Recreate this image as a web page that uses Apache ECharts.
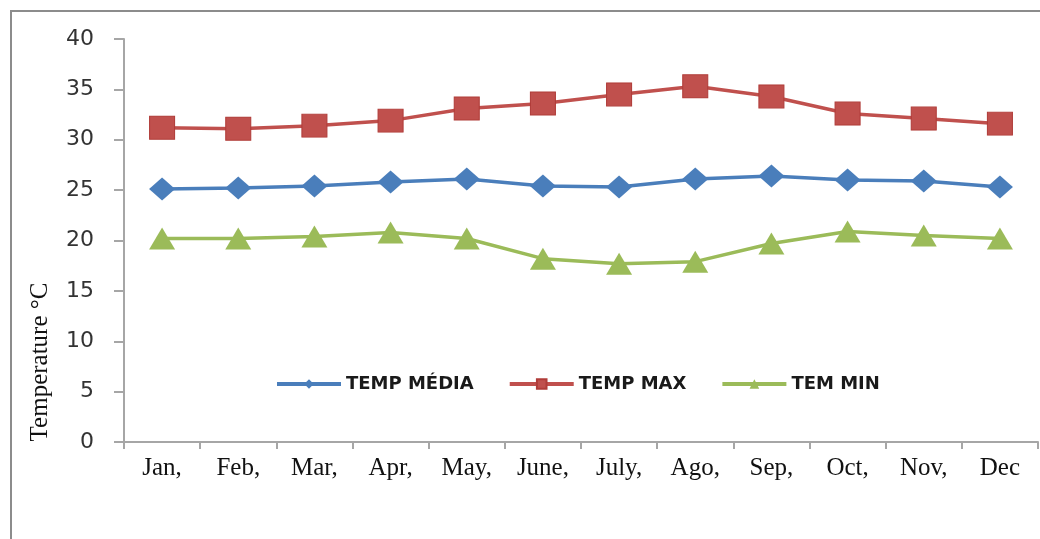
<!DOCTYPE html>
<html>
<head>
<meta charset="utf-8">
<script src="https://cdn.jsdelivr.net/npm/echarts@6/dist/echarts.min.js"></script>
<style>
html,body{margin:0;padding:0;background:#fff;}
#chart{width:1040px;height:539px;}
</style>
</head>
<body>
<div id="chart"></div>
<script>
var months = ['Jan,', 'Feb,', 'Mar,', 'Apr,', 'May,', 'June,', 'July,', 'Ago,', 'Sep,', 'Oct,', 'Nov,', 'Dec'];
var tempMedia = [25.1, 25.2, 25.4, 25.8, 26.1, 25.4, 25.3, 26.1, 26.4, 26.0, 25.9, 25.3];
var tempMax = [31.2, 31.1, 31.4, 31.9, 33.1, 33.6, 34.5, 35.3, 34.3, 32.6, 32.1, 31.6];
var tempMin = [20.2, 20.2, 20.4, 20.8, 20.2, 18.2, 17.7, 17.9, 19.7, 20.9, 20.5, 20.2];
var seriesNames = ['TEMP MÉDIA', 'TEMP MAX', 'TEM MIN'];
var yTitle = 'Temperature °C';

var chart = echarts.init(document.getElementById('chart'));
chart.setOption({
  animation: false,
  backgroundColor: '#fff',
  grid: {left: 124, right: 2, top: 39, bottom: 97, containLabel: false},
  legend: {
    left: 270, top: 370,
    itemWidth: 64, itemHeight: 12, itemGap: 34,
    lineStyle: {width: 4},
    textStyle: {fontFamily: 'DejaVu Sans', fontWeight: 'bold', fontSize: 18, color: '#1a1a1a'},
    data: seriesNames
  },
  xAxis: {
    type: 'category',
    data: months,
    boundaryGap: true,
    axisLine: {lineStyle: {color: '#a6a6a6', width: 2}},
    axisTick: {show: true, length: 7, lineStyle: {color: '#a6a6a6', width: 2}},
    axisLabel: {interval: 0, margin: 14, fontFamily: 'Liberation Serif', fontSize: 25, color: '#111'}
  },
  yAxis: {
    type: 'value',
    min: 0, max: 40, interval: 5,
    axisLine: {show: true, lineStyle: {color: '#a6a6a6', width: 2}},
    axisTick: {show: true, inside: false, length: 10, lineStyle: {color: '#a6a6a6', width: 2}},
    splitLine: {show: false},
    axisLabel: {margin: 30, fontFamily: 'DejaVu Sans', fontSize: 22, color: '#333'}
  },
  graphic: [
    {type: 'rect', shape: {x: 11, y: 11, width: 1200, height: 700},
     style: {fill: 'none', stroke: '#8c8c8c', lineWidth: 2}, silent: true},
    {type: 'text', x: 40, y: 362, rotation: Math.PI / 2,
     style: {text: yTitle, fontFamily: 'Liberation Serif', fontSize: 25, fill: '#111',
             textAlign: 'center', textVerticalAlign: 'middle'}}
  ],
  series: [
    {name: seriesNames[0], type: 'line', data: tempMedia,
     symbol: 'diamond', symbolSize: [26, 23],
     lineStyle: {color: '#4a7ebb', width: 3.5},
     itemStyle: {color: '#4a7ebb'}},
    {name: seriesNames[1], type: 'line', data: tempMax,
     symbol: 'rect', symbolSize: [25, 23],
     lineStyle: {color: '#c0504d', width: 3.5},
     itemStyle: {color: '#c0504d', borderColor: '#b03c39', borderWidth: 1}},
    {name: seriesNames[2], type: 'line', data: tempMin,
     symbol: 'triangle', symbolSize: [26, 22],
     lineStyle: {color: '#9bbb59', width: 3.5},
     itemStyle: {color: '#9bbb59'}}
  ]
});
</script>
</body>
</html>
